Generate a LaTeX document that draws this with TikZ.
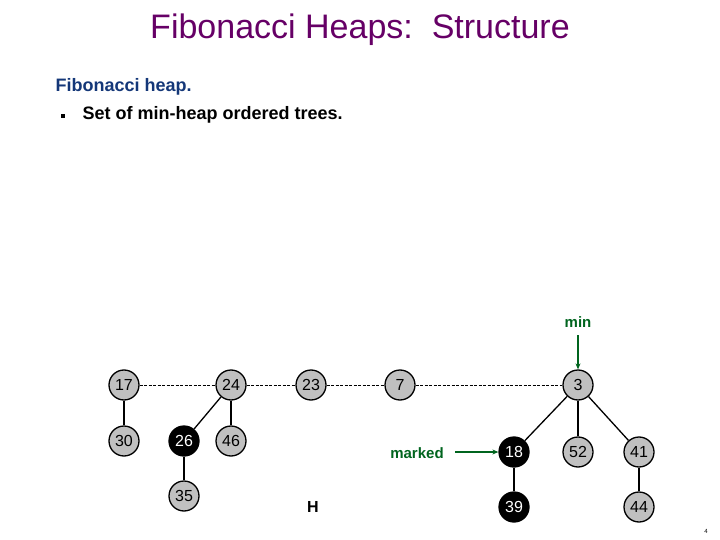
\documentclass[tikz,border=0pt]{standalone}
\usepackage{fontspec}
\setmainfont{Liberation Sans}
\usetikzlibrary{arrows.meta}
\definecolor{titlepurple}{RGB}{102,0,102}
\definecolor{headblue}{RGB}{20,55,120}
\definecolor{mgreen}{RGB}{0,100,30}
\definecolor{nodegray}{RGB}{192,192,192}
\begin{document}
\begin{tikzpicture}[x=1pt,y=-1pt,
  hnode/.style={circle,draw=black,line width=1.3pt,fill=nodegray,minimum size=30pt,inner sep=0pt,font=\fontsize{16}{16}\selectfont},
  mnode/.style={hnode,fill=black,text=white},
  tree/.style={line width=1.3pt},
  rootlink/.style={dashed,line width=1pt,dash pattern=on 3pt off 1.5pt},
  garrow/.style={mgreen,line width=1.3pt,-{Stealth[length=6pt,width=5pt]}},
  glabel/.style={mgreen,font=\fontsize{15}{15}\selectfont\bfseries}]
\useasboundingbox (0,0) rectangle (720,540);
\node (title) at (360,30) {\color{titlepurple}\fontsize{34}{34}\selectfont Fibonacci Heaps:\ \ Structure};
\node[anchor=west,headblue,font=\fontsize{18}{18}\selectfont\bfseries] (head) at (52,87) {Fibonacci heap.};
\node[fill=black,minimum size=3.5pt,inner sep=0pt] (bul) at (63,116) {};
\node[anchor=west,font=\fontsize{18}{18}\selectfont\bfseries] (item) at (79,115) {Set of min-heap ordered trees.};
% roots
\node[hnode] (n17) at (124,385) {17};
\node[hnode] (n24) at (231,385) {24};
\node[hnode] (n23) at (311,385) {23};
\node[hnode] (n7) at (400,385) {7};
\node[hnode] (n3) at (578,385) {3};
% children
\node[hnode] (n30) at (124,441) {30};
\node[mnode] (n26) at (184,441) {26};
\node[hnode] (n46) at (231,441) {46};
\node[hnode] (n35) at (184,496) {35};
\node[mnode] (n18) at (514,452) {18};
\node[hnode] (n52) at (578,452) {52};
\node[hnode] (n41) at (639,452) {41};
\node[mnode] (n39) at (514,507) {39};
\node[hnode] (n44) at (639,507) {44};
% root list
\draw[rootlink] (n17) -- (n24);
\draw[rootlink] (n24) -- (n23);
\draw[rootlink] (n23) -- (n7);
\draw[rootlink] (n7) -- (n3);
% tree edges
\draw[tree] (n17) -- (n30);
\draw[tree] (n24) -- (n26);
\draw[tree] (n24) -- (n46);
\draw[tree] (n26) -- (n35);
\draw[tree] (n3) -- (n18);
\draw[tree] (n3) -- (n52);
\draw[tree] (n3) -- (n41);
\draw[tree] (n18) -- (n39);
\draw[tree] (n41) -- (n44);
% labels
\node[glabel] (min) at (578,322) {min};
\coordinate (mintail) at (578,335);
\draw[garrow] (mintail) -- (n3.north);
\node[glabel] (marked) at (417,453) {marked};
\coordinate (marktail) at (455,452);
\draw[garrow] (marktail) -- (n18.west);
\node[font=\fontsize{16}{16}\selectfont\bfseries] (H) at (313,507) {H};
\node[font=\fontsize{6}{6}\selectfont] (pg) at (706,531) {4};
\end{tikzpicture}
\end{document}
